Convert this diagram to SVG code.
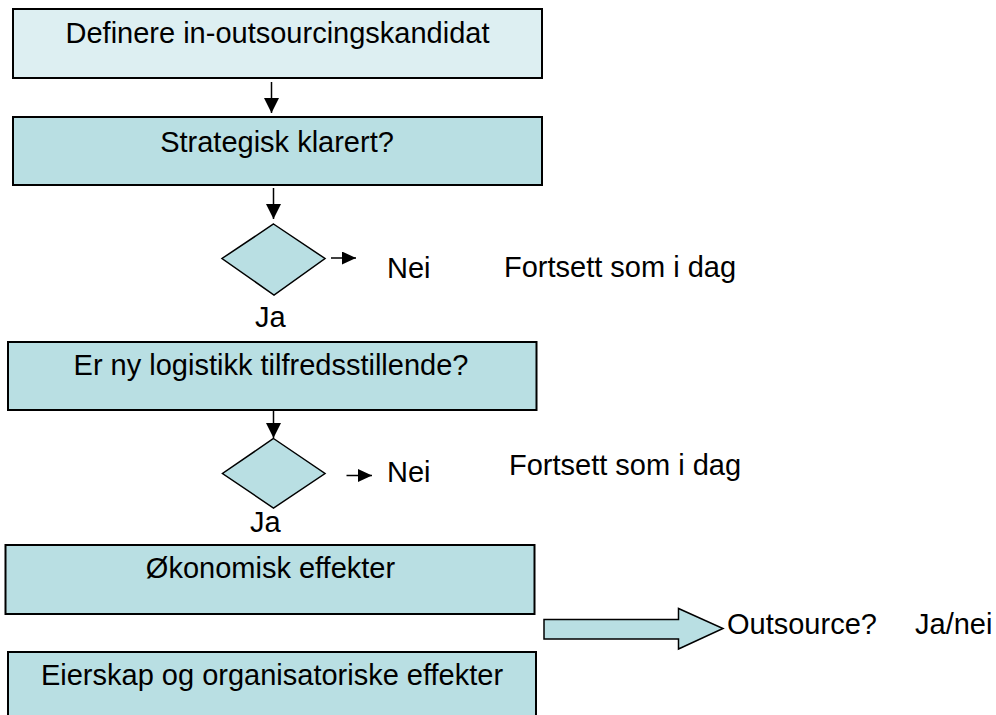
<svg xmlns="http://www.w3.org/2000/svg" width="996" height="715" viewBox="0 0 996 715">
<style>
  .box { fill: #B9DFE3; stroke: #000; stroke-width: 2; }
  .box1 { fill: #DDEFF2; stroke: #000; stroke-width: 2; }
  .dia { fill: #B9DFE3; stroke: #000; stroke-width: 1.5; }
  .t { font-family: "Liberation Sans", Arial, sans-serif; font-size: 29px; fill: #000; }
  .c { text-anchor: middle; }
  .big { stroke: #000; stroke-width: 1.5; fill: none; marker-end: url(#ah); }
  .small { stroke: #000; stroke-width: 1.5; fill: none; marker-end: url(#as); }
</style>
<defs>
  <marker id="ah" markerUnits="userSpaceOnUse" markerWidth="16" markerHeight="16" refX="15" refY="7.5" orient="auto">
    <path d="M0,0 L15,7.5 L0,15 Z" fill="#000"/>
  </marker>
  <marker id="as" markerUnits="userSpaceOnUse" markerWidth="15" markerHeight="14" refX="14" refY="6.5" orient="auto">
    <path d="M0,0 L14,6.5 L0,13 Z" fill="#000"/>
  </marker>
</defs>
<rect width="996" height="715" fill="#fff"/>

<g id="connectors">
  <line class="big" x1="271.5" y1="82" x2="271.5" y2="113"/>
  <line class="big" x1="273.5" y1="188" x2="273.5" y2="219"/>
  <line class="small" x1="331" y1="258" x2="356" y2="258"/>
  <line class="big" x1="273.5" y1="410" x2="273.5" y2="438"/>
  <line class="small" x1="346.5" y1="475.5" x2="372" y2="475.5"/>
</g>

<g id="n1">
  <rect class="box1" x="13" y="9" width="529" height="69"/>
  <text class="t c" x="277.5" y="43">Definere in-outsourcingskandidat</text>
</g>
<g id="n2">
  <rect class="box" x="13" y="117" width="529" height="68"/>
  <text class="t c" x="277" y="152">Strategisk klarert?</text>
</g>
<g id="d1">
  <polygon class="dia" points="273.5,224 325,258.5 274,295 222,258.5"/>
</g>
<g id="l1">
  <text class="t" x="387" y="278">Nei</text>
  <text class="t" x="504" y="277">Fortsett som i dag</text>
  <text class="t" x="255" y="327">Ja</text>
</g>
<g id="n3">
  <rect class="box" x="8" y="342" width="528.5" height="68"/>
  <text class="t c" x="271" y="375">Er ny logistikk tilfredsstillende?</text>
</g>
<g id="d2">
  <polygon class="dia" points="273.5,438.5 325,473.5 273.5,508 222.5,473.5"/>
</g>
<g id="l2">
  <text class="t" x="387" y="482">Nei</text>
  <text class="t" x="509" y="475">Fortsett som i dag</text>
  <text class="t" x="250" y="532">Ja</text>
</g>
<g id="n4">
  <rect class="box" x="5.5" y="545" width="529" height="69"/>
  <text class="t c" x="270.5" y="578">Økonomisk effekter</text>
</g>
<g id="n5">
  <rect class="box" x="8" y="652" width="528" height="70"/>
  <text class="t c" x="272" y="685">Eierskap og organisatoriske effekter</text>
</g>
<g id="outsource">
  <polygon class="dia" points="544,619.5 678.5,619.5 678.5,608.5 723,628.5 678.5,649 678.5,639 544,639"/>
  <text class="t" x="727" y="634">Outsource?</text>
  <text class="t" x="915" y="634">Ja/nei</text>
</g>
</svg>
